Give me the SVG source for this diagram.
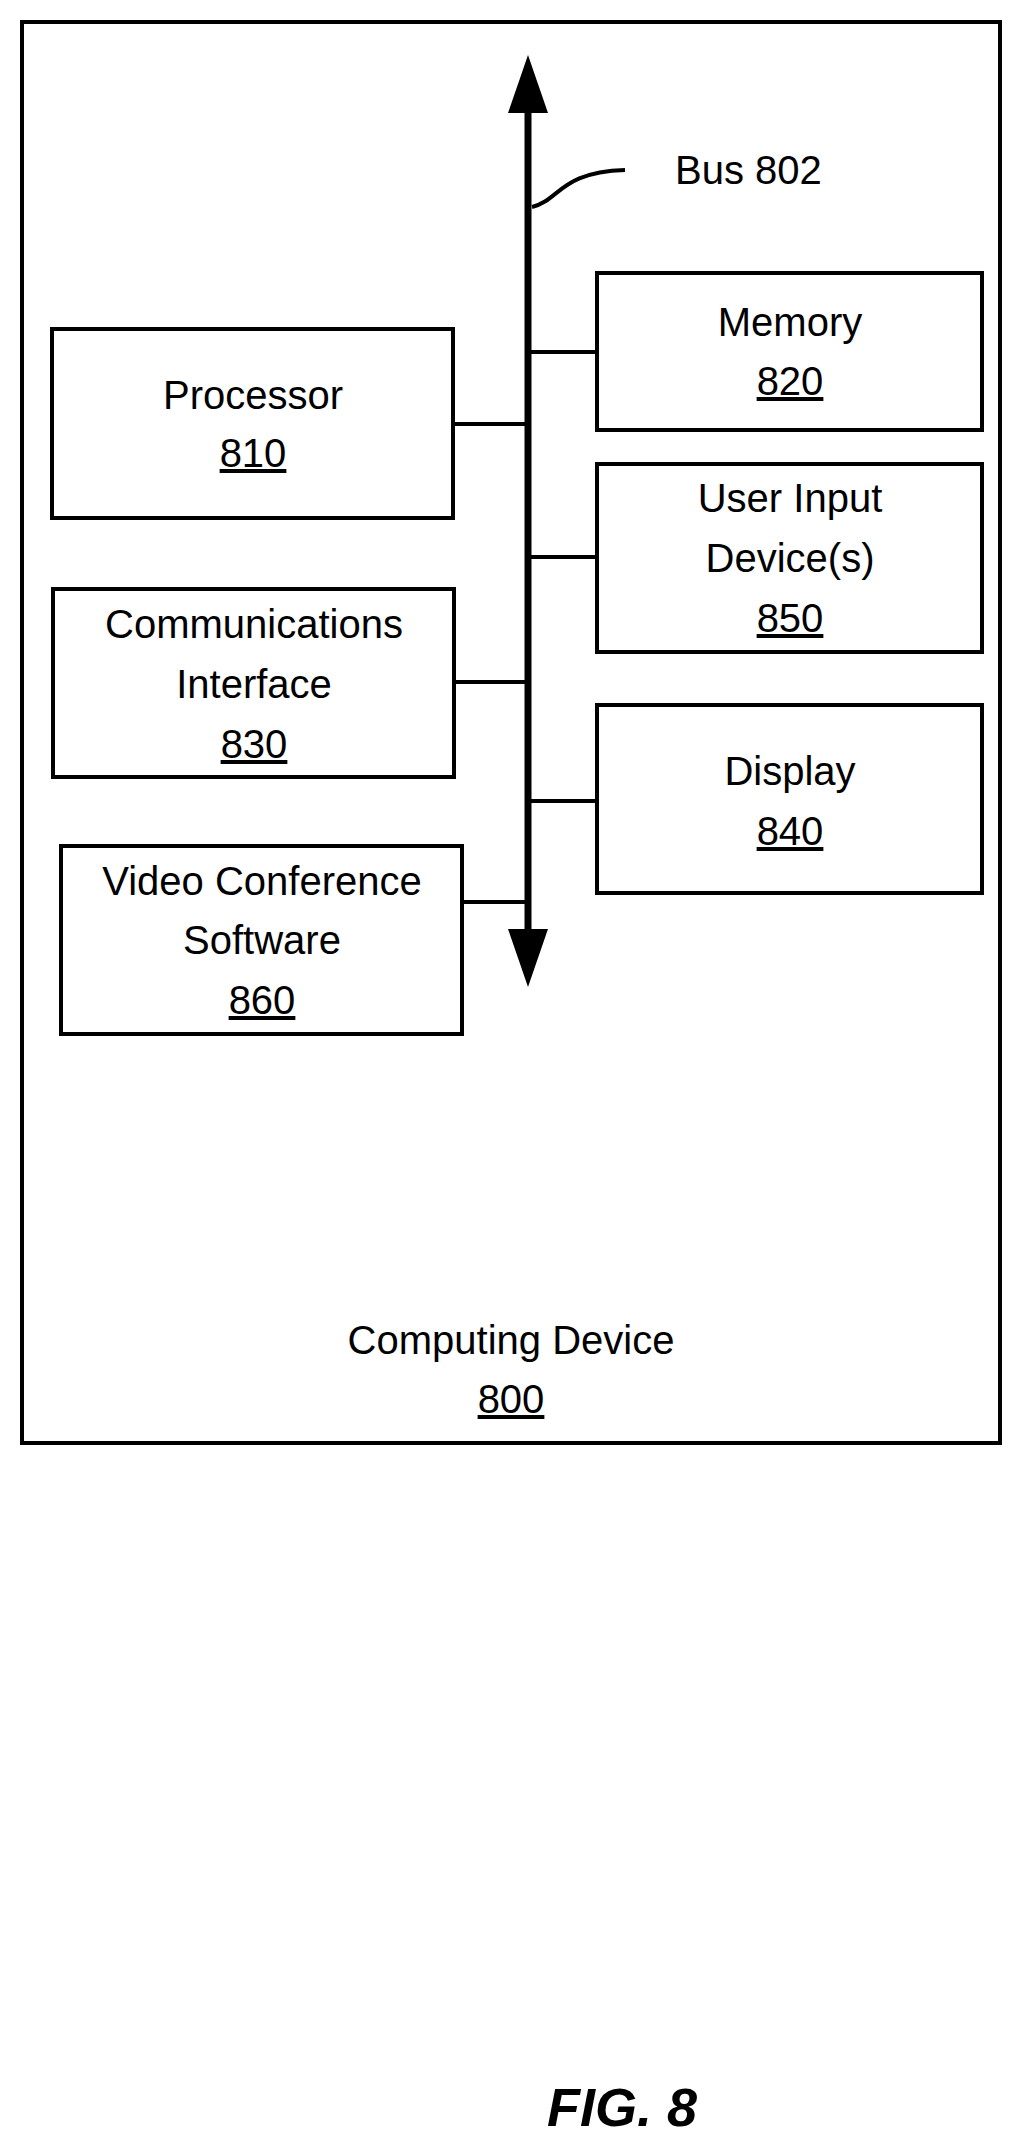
<svg xmlns="http://www.w3.org/2000/svg" width="1023" height="2143" viewBox="0 0 1023 2143">
<style>
.b{fill:#fff;stroke:#000;stroke-width:4}
.t{font-family:"Liberation Sans",Arial,sans-serif;font-size:40px;text-anchor:middle;fill:#000}
.u{text-decoration:underline}
.c{stroke:#000;stroke-width:4;fill:none}
</style>
<rect width="1023" height="2143" fill="#fff"/>
<g id="computing-device">
<rect class="b" x="22" y="22" width="978" height="1421"/>
<text class="t" x="511" y="1354">Computing Device</text>
<text class="t u" x="511" y="1413">800</text>
</g>
<g id="connectors">
<line x1="528" y1="110" x2="528" y2="930" stroke="#000" stroke-width="7"/>
<polygon points="528,55 508,113 548,113"/>
<polygon points="528,987 508,929 548,929"/>
<path class="c" d="M532,207 C560,200 560,172 625,170"/>
<line class="c" x1="453" y1="424" x2="528" y2="424"/>
<line class="c" x1="454" y1="682" x2="528" y2="682"/>
<line class="c" x1="462" y1="902" x2="528" y2="902"/>
<line class="c" x1="528" y1="352" x2="597" y2="352"/>
<line class="c" x1="528" y1="557" x2="597" y2="557"/>
<line class="c" x1="528" y1="801" x2="597" y2="801"/>
<text class="t" x="675" y="184" style="text-anchor:start">Bus  802</text>
</g>
<g id="memory">
<rect class="b" x="597" y="273" width="385" height="157"/>
<text class="t" x="790" y="336">Memory</text>
<text class="t u" x="790" y="395">820</text>
</g>
<g id="user-input">
<rect class="b" x="597" y="464" width="385" height="188"/>
<text class="t" x="790" y="512">User Input</text>
<text class="t" x="790" y="572">Device(s)</text>
<text class="t u" x="790" y="632">850</text>
</g>
<g id="display">
<rect class="b" x="597" y="705" width="385" height="188"/>
<text class="t" x="790" y="785">Display</text>
<text class="t u" x="790" y="845">840</text>
</g>
<g id="processor">
<rect class="b" x="52" y="329" width="401" height="189"/>
<text class="t" x="253" y="409">Processor</text>
<text class="t u" x="253" y="467">810</text>
</g>
<g id="comm">
<rect class="b" x="53" y="589" width="401" height="188"/>
<text class="t" x="254" y="638">Communications</text>
<text class="t" x="254" y="698">Interface</text>
<text class="t u" x="254" y="758">830</text>
</g>
<g id="video">
<rect class="b" x="61" y="846" width="401" height="188"/>
<text class="t" x="262" y="895">Video Conference</text>
<text class="t" x="262" y="954">Software</text>
<text class="t u" x="262" y="1014">860</text>
</g>
<text x="622" y="2126" style="font-family:'Liberation Sans',Arial,sans-serif;font-size:54px;font-style:italic;font-weight:bold;text-anchor:middle">FIG. 8</text>
</svg>
